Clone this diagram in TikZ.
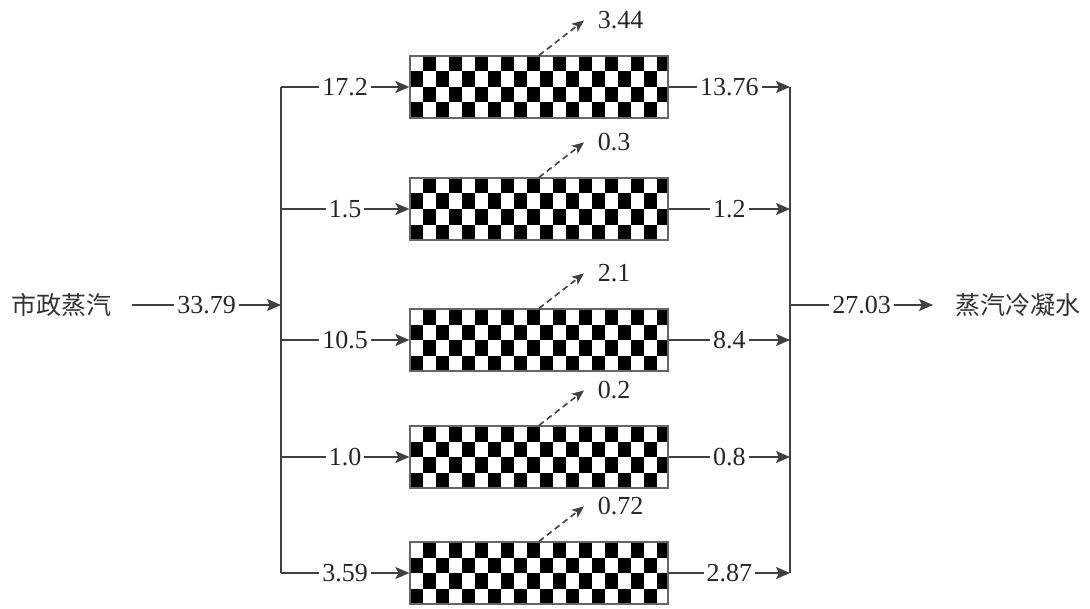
\documentclass[tikz,border=0pt]{standalone}
\usepackage{fontspec}
\setmainfont{Liberation Serif}
\newfontfamily\cjk{Noto Sans CJK SC}
\usepackage{tikz}
\usetikzlibrary{arrows.meta}

\tikzset{
  trunk/.style={draw=black!75, line width=0.8pt},
  flow/.style={trunk, -{Stealth[length=7pt,width=6pt,inset=1.5pt]}},
  loss/.style={trunk, dash pattern=on 3pt off 2pt, -{Stealth[length=6pt,width=5pt,inset=1.5pt]}},
  lbl/.style={fill=white, inner xsep=1.5pt, inner ysep=0pt, text=black!85, font=\fontsize{13}{15}\selectfont},
  txt/.style={text=black!80, font=\cjk\fontsize{12.5}{15}\selectfont},
  proc/.style={draw=black!60, line width=0.6pt, minimum width=129pt, minimum height=31pt, inner sep=0pt,
    path picture={
      \foreach \c in {0,...,19}{\foreach \r in {0,...,3}{
        \pgfmathtruncatemacro\z{mod(\c+\r,2)}
        \ifnum\z=1 \fill[black] ([shift={(\c*13,\r*15.5)}]path picture bounding box.north west) rectangle ++(13,15.5);\fi
      }}
    }},
}

\begin{document}
\begin{tikzpicture}[x=0.5pt,y=-0.5pt]
\useasboundingbox (0,0) rectangle (1090,609);
% source and sink
\node[txt, anchor=east, inner xsep=10pt] (src) at (132,305) {市政蒸汽};
\node[txt, anchor=west, inner xsep=11pt] (dst) at (933,305) {蒸汽冷凝水};
\coordinate (inL) at (281,305);
\coordinate (outR) at (790,305);
\draw[flow] (src) -- node[lbl]{33.79} (inL);
\draw[flow] (outR) -- node[lbl]{27.03} (dst);
% the five users
\foreach \y/\fin/\fout/\floss [count=\k] in {87/17.2/13.76/3.44, 209/1.5/1.2/0.3, 340/10.5/8.4/2.1, 457/1.0/0.8/0.2, 573/3.59/2.87/0.72}{
  \node[proc] (p\k) at (539,\y) {};
  \coordinate (a\k) at (281,\y);
  \coordinate (b\k) at (790,\y);
  \draw[flow] (a\k) -- node[lbl]{\fin} (p\k);
  \draw[flow] (p\k) -- node[lbl]{\fout} (b\k);
  \draw[loss] (p\k.north) -- ++(45,-35) node[lbl, fill=none, anchor=west, xshift=5pt]{\floss};
}
\draw[trunk] (a1) -- (a5);
\draw[trunk] (b1) -- (b5);
\end{tikzpicture}
\end{document}
